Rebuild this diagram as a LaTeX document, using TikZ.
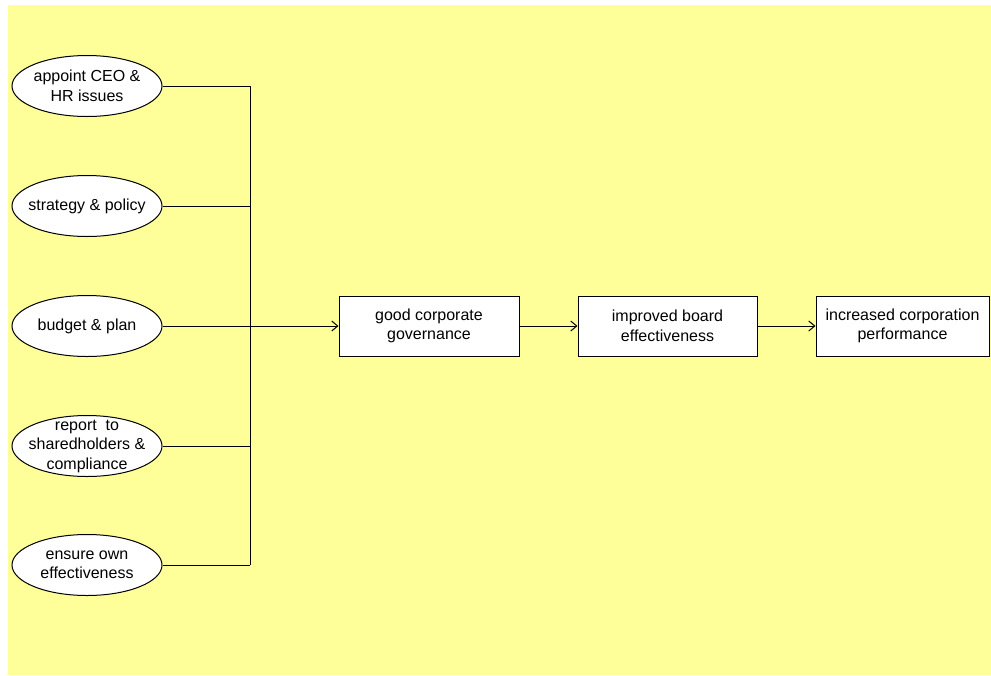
\documentclass[tikz,border=0pt]{standalone}
\usepackage{fontspec}
\setmainfont{Liberation Sans}
\usetikzlibrary{arrows.meta,shapes.geometric}
\definecolor{bgyellow}{RGB}{255,255,153}
\tikzset{
  task/.style={ellipse, draw=black, fill=white, line width=1pt,
    minimum width=150pt, minimum height=61pt,
    inner xsep=-40pt, inner ysep=-30pt,
    align=center, font=\fontsize{16}{19.5}\selectfont},
  result/.style={rectangle, draw=black, fill=white, line width=1pt,
    minimum height=60pt, inner sep=0pt,
    align=center, font=\fontsize{16}{19.5}\selectfont},
  link/.style={line width=1pt, draw=black},
  flow/.style={link, -{Straight Barb[length=6pt,width=10pt,line width=1pt]}}
}
\begin{document}
\begin{tikzpicture}[x=1pt,y=-1pt]
\useasboundingbox (0,0) rectangle (991,675);
\fill[bgyellow] (8,5) rectangle (991,675);

% board responsibilities
\node[task] (e1) at (87,86)  {appoint CEO \&\\HR issues};
\node[task] (e2) at (87,206) {strategy \& policy};
\node[task] (e3) at (87,326) {budget \& plan};
\node[task] (e4) at (87,446) {report~~to\\sharedholders \&\\compliance};
\node[task] (e5) at (87,565) {ensure own\\effectiveness};

% outcomes
\node[result, minimum width=180pt] (b1) at (429,326) {good corporate\\governance};
\node[result, minimum width=179pt] (b2) at (667.5,326) {improved board\\effectiveness};
\node[result, minimum width=173pt] (b3) at (902.5,326) {increased corporation\\performance};

% collecting bus
\coordinate (j1) at (250,86);
\coordinate (j2) at (250,206);
\coordinate (j3) at (250,326);
\coordinate (j4) at (250,446);
\coordinate (j5) at (250,565);

\draw[link] (j1) -- (j5);
\draw[link] (e1.east) -- (j1);
\draw[link] (e2.east) -- (j2);
\draw[link] (e3.east) -- (j3);
\draw[link] (e4.east) -- (j4);
\draw[link] (e5.east) -- (j5);

\draw[flow] (j3) -- (b1.west);
\draw[flow] (b1.east) -- (b2.west);
\draw[flow] (b2.east) -- (b3.west);
\end{tikzpicture}
\end{document}
